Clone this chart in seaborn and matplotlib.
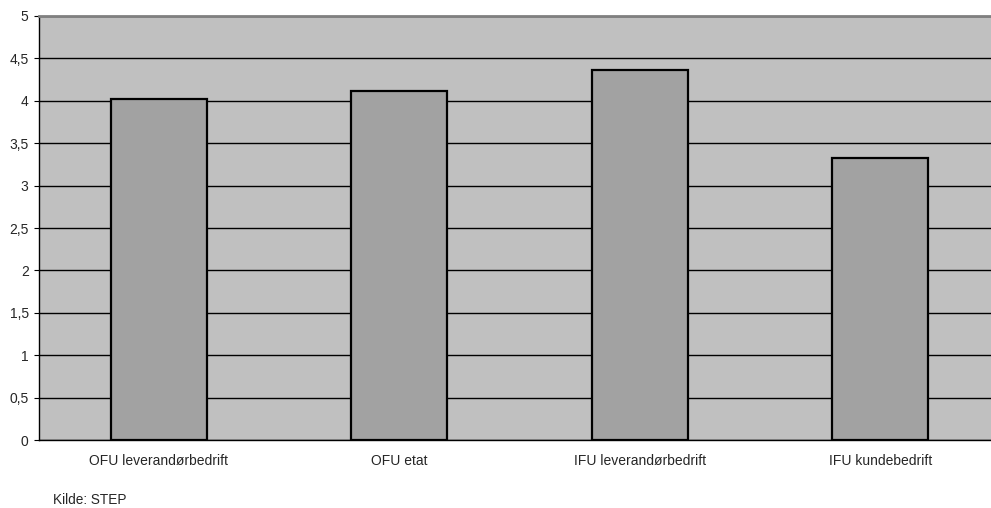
import matplotlib
matplotlib.use('Agg')
import matplotlib.pyplot as plt
import seaborn as sns
import pandas as pd
from matplotlib.ticker import MultipleLocator, FuncFormatter

categories = ['OFU leverandørbedrift', 'OFU etat', 'IFU leverandørbedrift', 'IFU kundebedrift']
values = [4.02, 4.11, 4.36, 3.33]

sns.set_style('white')
plt.rcParams['font.family'] = ['Liberation Sans', 'DejaVu Sans']

df = pd.DataFrame({'kategori': categories, 'verdi': values})

fig = plt.figure(figsize=(9.91, 5.08), dpi=100)
ax = fig.add_axes([38.5 / 991, 68 / 508, 962 / 991, 424 / 508])
ax.set_facecolor('#c0c0c0')

sns.barplot(data=df, x='kategori', y='verdi', color='#a2a2a2', saturation=1,
            width=0.4, edgecolor='black', linewidth=1.6, ax=ax, zorder=3)

ax.set_xlim(-0.5, 3.5)
ax.set_ylim(0, 5)
ax.yaxis.set_major_locator(MultipleLocator(0.5))
ax.yaxis.set_major_formatter(FuncFormatter(lambda v, p: f'{v:g}'.replace('.', ',')))
ax.grid(axis='y', color='black', linewidth=1.0, zorder=0)
ax.set_axisbelow(True)
ax.set_xlabel('')
ax.set_ylabel('')

# category separator ticks on the x axis
ax.set_xticks([0, 1, 2, 3])
ax.set_xticks([0.5, 1.5, 2.5], minor=True)
ax.tick_params(axis='x', which='major', length=0, pad=10, labelsize=10)
ax.tick_params(axis='x', which='minor', length=4, width=0.8, color='black')
ax.tick_params(axis='y', which='major', length=3.6, width=0.8, color='black',
               left=True, labelsize=10, pad=3.5)

for s in ['left', 'bottom']:
    ax.spines[s].set_color('black')
    ax.spines[s].set_linewidth(1.0)
ax.spines['top'].set_color('#808080')
ax.spines['top'].set_linewidth(2.0)
ax.spines['right'].set_visible(False)

fig.text(53 / 991, 1 - 500 / 508, 'Kilde: STEP', fontsize=9.8, va='center', ha='left')

fig.savefig('out.png', dpi=100)
